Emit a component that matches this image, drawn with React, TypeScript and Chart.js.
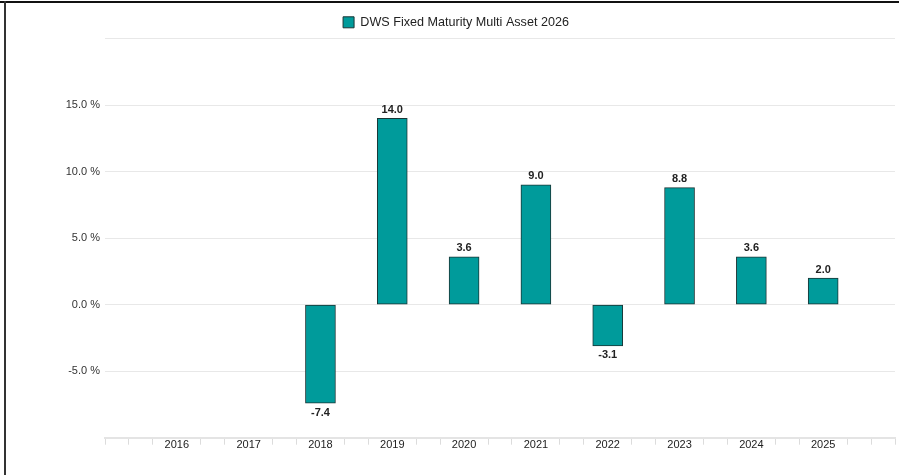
import React, { useEffect, useRef } from "react";
import { Chart, registerables } from "chart.js";

Chart.register(...registerables);

const years: number[] = [2016, 2017, 2018, 2019, 2020, 2021, 2022, 2023, 2024, 2025];
const returns: (number | null)[] = [null, null, -7.4, 14.0, 3.6, 9.0, -3.1, 8.8, 3.6, 2.0];
const seriesName = "DWS Fixed Maturity Multi Asset 2026";
const yTickValues: number[] = [-5, 0, 5, 10, 15];

const FONT = "'Liberation Sans', Arial, Helvetica, sans-serif";
const isWhole = (v: number) => Math.abs(v - Math.round(v)) < 1e-6;

const valueLabels = {
  id: "valueLabels",
  afterDatasetsDraw(chart: any) {
    const ctx = chart.ctx;
    const meta = chart.getDatasetMeta(0);
    ctx.save();
    ctx.font = `bold 11px ${FONT}`;
    ctx.fillStyle = "#222222";
    ctx.textAlign = "center";
    meta.data.forEach((bar: any, i: number) => {
      const raw = chart.data.datasets[0].data[i];
      if (!raw || raw.y === null || raw.y === undefined) return;
      const v = raw.y as number;
      if (v >= 0) {
        ctx.textBaseline = "bottom";
        ctx.fillText(v.toFixed(1), bar.x, bar.y - 3);
      } else {
        ctx.textBaseline = "top";
        ctx.fillText(v.toFixed(1), bar.x, bar.y + 4);
      }
    });
    ctx.restore();
  },
};

export default function App() {
  const ref = useRef<HTMLCanvasElement | null>(null);

  useEffect(() => {
    document.body.style.margin = "0";
    const canvas = ref.current!;
    const chart = new Chart(canvas, {
      type: "bar",
      data: {
        datasets: [
          {
            label: seriesName,
            data: years
              .map((y, i) => ({ x: y, y: returns[i] }))
              .filter((p) => p.y !== null) as any,
            backgroundColor: "#009b9b",
            borderColor: "#1a3535",
            borderWidth: 1,
            borderSkipped: false,
            barThickness: 30,
          },
        ],
      },
      options: {
        responsive: false,
        animation: false,
        layout: { padding: { left: 17, right: 4, top: 6, bottom: 0 } },
        plugins: {
          tooltip: { enabled: false },
          legend: {
            display: true,
            position: "top",
            labels: {
              boxWidth: 11,
              boxHeight: 11,
              padding: 10,
              color: "#222222",
              font: { family: FONT, size: 12.6 },
            },
          },
        },
        scales: {
          x: {
            type: "linear",
            min: years[0] - 1,
            max: years[years.length - 1] + 1,
            offset: false,
            afterFit: (scale: any) => {
              scale.height = 37.3;
            },
            grid: {
              offset: false,
              drawOnChartArea: false,
              drawTicks: true,
              tickLength: 7,
              lineWidth: 1,
              color: (c: any) => {
                const v = c.tick ? c.tick.value : 0;
                if (isWhole(v) && v >= years[0] - 0.01 && v <= years[years.length - 1] + 0.01) return "rgba(0,0,0,0)";
                return "#dcdcdc";
              },
            },
            border: { display: true, color: "#e4e4e4", width: 2 },
            ticks: {
              stepSize: 1 / 3,
              autoSkip: false,
              maxRotation: 0,
              padding: -6,
              color: "#222222",
              font: { family: FONT, size: 11 },
              callback: (v: any) => {
                const n = Number(v);
                if (!isWhole(n)) return "";
                const r = Math.round(n);
                return years.includes(r) ? String(r) : "";
              },
            },
          },
          y: {
            min: -10,
            max: 20,
            afterFit: (scale: any) => {
              scale.width = 88;
            },
            grid: {
              drawTicks: false,
              color: "#e8e8e8",
              lineWidth: 1,
            },
            border: { display: false },
            ticks: {
              stepSize: 5,
              padding: 5,
              color: "#333333",
              font: { family: FONT, size: 11 },
              callback: (v: any) => {
                const n = Number(v);
                return yTickValues.includes(n) ? `${n.toFixed(1)} %` : "";
              },
            },
          },
        },
      },
      plugins: [valueLabels],
    });
    return () => chart.destroy();
  }, []);

  return (
    <div style={{ position: "absolute", left: 0, top: 0, width: 899, height: 475, background: "#ffffff" }}>
      <canvas ref={ref} width={899} height={475} style={{ position: "absolute", left: 0, top: 0, width: 899, height: 475 }} />
      <div style={{ position: "absolute", left: 0, top: 1, width: 899, height: 2, background: "#111111" }} />
      <div style={{ position: "absolute", left: 4, top: 1, width: 2, height: 474, background: "#333333" }} />
    </div>
  );
}
